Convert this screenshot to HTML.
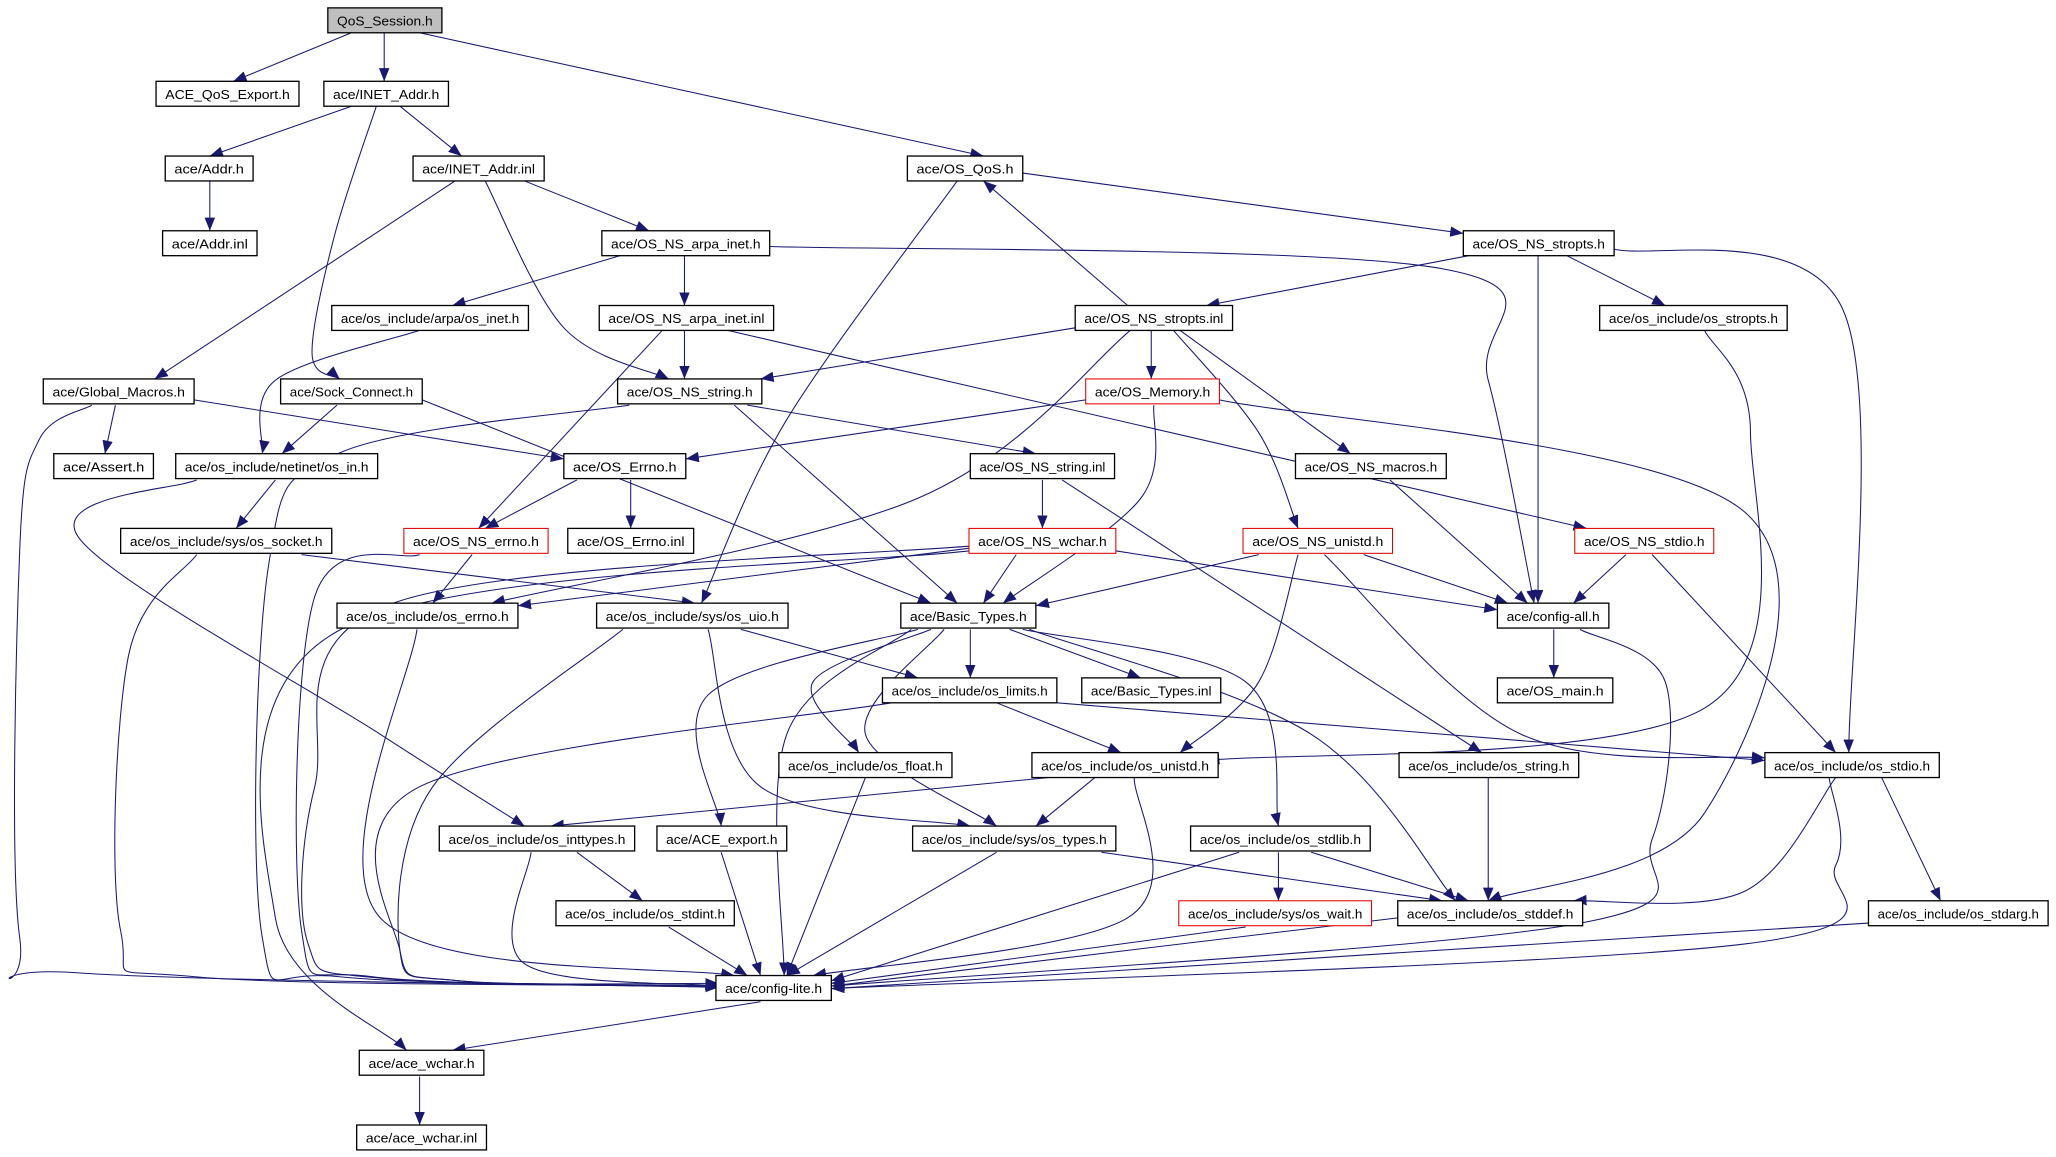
<!DOCTYPE html>
<html><head><meta charset="utf-8"><style>
html,body{margin:0;padding:0;background:#fff;}
svg{display:block;}
</style></head><body>
<svg id="g" xmlns="http://www.w3.org/2000/svg" width="2056" height="1157" viewBox="0 0 1568 882.4">
<defs>
<marker id="a" viewBox="0 0 10 8" refX="10" refY="4" markerWidth="10" markerHeight="8" markerUnits="userSpaceOnUse" orient="auto">
<path d="M0,0 L10,4 L0,8 z" fill="#191970"/>
</marker>
</defs>
<g id="edges" fill="none" stroke="#191970" stroke-width="0.8"></g>
<g id="nodes"></g>
</svg>
<script>
var N={
QoS:[250,337,6,"QoS_Session.h","g"],
QEx:[119,228,62,"ACE_QoS_Export.h"],
INA:[247,342,62,"ace/INET_Addr.h"],
Addr:[126,193,119,"ace/Addr.h"],
INAi:[315,415,119,"ace/INET_Addr.inl"],
QoSh:[692,780,119,"ace/OS_QoS.h"],
Addri:[124,196,176,"ace/Addr.inl"],
ARPA:[459,587,176,"ace/OS_NS_arpa_inet.h"],
STR:[1116,1231,176,"ace/OS_NS_stropts.h"],
OSINET:[253,403,233,"ace/os_include/arpa/os_inet.h"],
ARPAi:[457,590,233,"ace/OS_NS_arpa_inet.inl"],
STRi:[820,940,233,"ace/OS_NS_stropts.inl"],
OSSTR:[1220,1363,233,"ace/os_include/os_stropts.h"],
GM:[33,148,289,"ace/Global_Macros.h"],
SC:[214,322,289,"ace/Sock_Connect.h"],
NSS:[471,581,289,"ace/OS_NS_string.h"],
MEM:[828,930,289,"ace/OS_Memory.h","r"],
AS:[41,117,346,"ace/Assert.h"],
IN:[134,288,346,"ace/os_include/netinet/os_in.h"],
ERR:[430,523,346,"ace/OS_Errno.h"],
NSSi:[740,850,346,"ace/OS_NS_string.inl"],
MAC:[988,1103,346,"ace/OS_NS_macros.h"],
SOCK:[92,253,403,"ace/os_include/sys/os_socket.h"],
NSE:[308,418,403,"ace/OS_NS_errno.h","r"],
ERRi:[433,529,403,"ace/OS_Errno.inl"],
WCH:[739,851,403,"ace/OS_NS_wchar.h","r"],
UNI:[948,1062,403,"ace/OS_NS_unistd.h","r"],
STDIO:[1201,1307,403,"ace/OS_NS_stdio.h","r"],
OERR:[257,395,460,"ace/os_include/os_errno.h"],
UIO:[455,601,460,"ace/os_include/sys/os_uio.h"],
BT:[687,790,460,"ace/Basic_Types.h"],
CA:[1142,1227,460,"ace/config-all.h"],
LIM:[673,806,517,"ace/os_include/os_limits.h"],
BTi:[825,931,517,"ace/Basic_Types.inl"],
MAIN:[1142,1230,517,"ace/OS_main.h"],
FLT:[594,726,574,"ace/os_include/os_float.h"],
OUNI:[787,929,574,"ace/os_include/os_unistd.h"],
OSTRG:[1067,1204,574,"ace/os_include/os_string.h"],
OSTDIO:[1346,1479,574,"ace/os_include/os_stdio.h"],
INT:[335,484,630,"ace/os_include/os_inttypes.h"],
AEX:[501,600,630,"ace/ACE_export.h"],
TYP:[696,851,630,"ace/os_include/sys/os_types.h"],
STDL:[908,1045,630,"ace/os_include/os_stdlib.h"],
SINT:[424,560,687,"ace/os_include/os_stdint.h"],
WAIT:[899,1046,687,"ace/os_include/sys/os_wait.h","r"],
SDEF:[1066,1207,687,"ace/os_include/os_stddef.h"],
SARG:[1425,1562,687,"ace/os_include/os_stdarg.h"],
CL:[546,634,744,"ace/config-lite.h"],
AW:[274,369,801,"ace/ace_wchar.h"],
AWi:[272,371,858,"ace/ace_wchar.inl"]
};
var E=[
[[268,25],[178,62]],[[293,25],[293,62]],[[320,25],[750,119]],
[[268,81],[160,119]],[[305,81],[352,119]],[[287,81],[255,180],[238,270],[259,289]],
[[160,138],[160,176]],[[347,138],[118,289]],[[370,138],[430,250],[510,289]],
[[400,138],[495,176]],[[780,132],[1116,178]],[[730,138],[600,320],[535,460]],
[[473,195],[345,233]],[[522,195],[522,233]],[[587,188],[1100,205],[1135,290],[1170,460]],
[[1120,195],[920,233]],[[1195,195],[1270,233]],[[1173,195],[1173,460]],
[[1231,190],[1405,235],[1410,574]],
[[860,233],[750,138]],[[820,250],[580,289]],[[878,252],[878,289]],
[[900,252],[1030,346]],[[895,252],[960,330],[990,403]],[[862,252],[700,380],[375,460]],
[[1300,252],[1335,330],[1300,540],[920,580]],
[[320,252],[210,290],[200,346]],[[522,252],[522,289]],[[505,252],[365,403]],[[555,252],[1210,403]],
[[88,309],[80,346]],[[70,309],[30,335],[15,420],[15,715],[60,742],[548,753]],[[148,305],[430,350]],
[[257,309],[215,346]],[[322,305],[710,460]],
[[480,309],[260,345],[205,430],[200,715],[260,745],[548,752]],[[570,309],[790,346]],[[560,309],[730,460]],
[[828,305],[523,350]],[[880,309],[870,380],[765,460]],[[930,305],[1330,390],[1300,620],[1135,687]],
[[210,366],[180,403]],[[150,366],[60,410],[290,560],[400,630]],
[[481,366],[481,403]],[[440,366],[370,403]],[[795,366],[795,403]],[[810,366],[1130,574]],
[[1060,366],[1165,460]],
[[150,423],[98,500],[92,710],[150,745],[548,752]],[[230,423],[530,460]],
[[360,423],[330,460]],[[320,423],[240,455],[230,710],[285,745],[548,752]],
[[740,418],[395,462]],[[775,423],[750,460]],[[850,420],[1142,465]],
[[740,420],[260,480],[210,700],[310,801]],[[745,416],[300,460],[240,600],[235,720],[290,746],[548,752]],
[[960,423],[790,462]],[[1040,423],[1150,460]],[[990,423],[960,520],[900,574]],
[[1010,423],[1160,560],[1346,578]],
[[1240,423],[1200,460]],[[1260,423],[1400,574]],
[[318,480],[290,700],[560,744]],[[475,480],[330,600],[305,725],[350,748],[548,750]],
[[565,480],[700,517]],[[540,480],[580,600],[740,630]],
[[740,480],[740,517]],[[770,480],[870,517]],[[710,480],[620,520],[655,574]],
[[700,480],[540,530],[550,630]],[[695,480],[600,560],[598,744]],
[[720,480],[660,560],[760,630]],[[780,480],[950,520],[975,630]],[[785,480],[1000,560],[1110,687]],
[[1185,480],[1185,517]],[[1205,480],[1270,520],[1260,640],[1200,705],[634,752]],
[[680,536],[320,600],[305,725],[350,748],[548,752]],[[760,536],[855,574]],[[806,536],[1346,580]],
[[660,593],[600,744]],
[[800,593],[420,630]],[[835,593],[790,630]],[[865,593],[860,700],[620,744]],
[[1135,593],[1135,687]],[[1400,593],[1330,680],[1200,687]],[[1395,593],[1400,660],[1330,720],[634,754]],
[[1435,593],[1480,687]],
[[405,650],[400,735],[548,752]],[[440,650],[490,687]],
[[550,650],[580,744]],[[760,650],[600,744]],[[840,650],[1100,687]],
[[975,650],[975,687]],[[1000,650],[1120,687]],[[945,650],[634,748]],
[[510,707],[570,744]],[[950,707],[634,750]],[[1066,700],[634,752]],[[1425,704],[634,754]],
[[580,764],[345,801]],[[320,821],[320,858]]
];
var NS="http://www.w3.org/2000/svg";
function pathD(p){
 if(p.length==2) return "M"+p[0]+" L"+p[1];
 var d="M"+p[0][0]+","+p[0][1];
 for(var i=0;i<p.length-1;i++){
  var p0=p[i-1]||p[i],p1=p[i],p2=p[i+1],p3=p[i+2]||p2;
  var c1=[p1[0]+(p2[0]-p0[0])/6,p1[1]+(p2[1]-p0[1])/6];
  var c2=[p2[0]-(p3[0]-p1[0])/6,p2[1]-(p3[1]-p1[1])/6];
  d+=" C"+c1+" "+c2+" "+p2;
 }
 return d;
}
var eg=document.getElementById("edges");
E.forEach(function(p){var e=document.createElementNS(NS,"path");e.setAttribute("d",pathD(p));e.setAttribute("marker-end","url(#a)");eg.appendChild(e);});
var ng=document.getElementById("nodes");
for(var k in N){var n=N[k];
 var r=document.createElementNS(NS,"rect");
 r.setAttribute("x",n[0]);r.setAttribute("y",n[2]);r.setAttribute("width",n[1]-n[0]);r.setAttribute("height",19);
 r.setAttribute("fill",n[4]=="g"?"#bfbfbf":"#fff");r.setAttribute("stroke",n[4]=="r"?"#e00000":"#000");r.setAttribute("stroke-width",n[4]=="r"?"0.8":"1");
 ng.appendChild(r);
 var t=document.createElementNS(NS,"text");
 t.setAttribute("x",(n[0]+n[1])/2);t.setAttribute("y",n[2]+13.5);t.setAttribute("text-anchor","middle");
 t.setAttribute("font-family","Liberation Sans, sans-serif");t.setAttribute("font-size","10");
 t.setAttribute("textLength",(n[1]-n[0])-14);t.setAttribute("lengthAdjust","spacingAndGlyphs");
 t.textContent=n[3];ng.appendChild(t);
}
</script>
</body></html>
